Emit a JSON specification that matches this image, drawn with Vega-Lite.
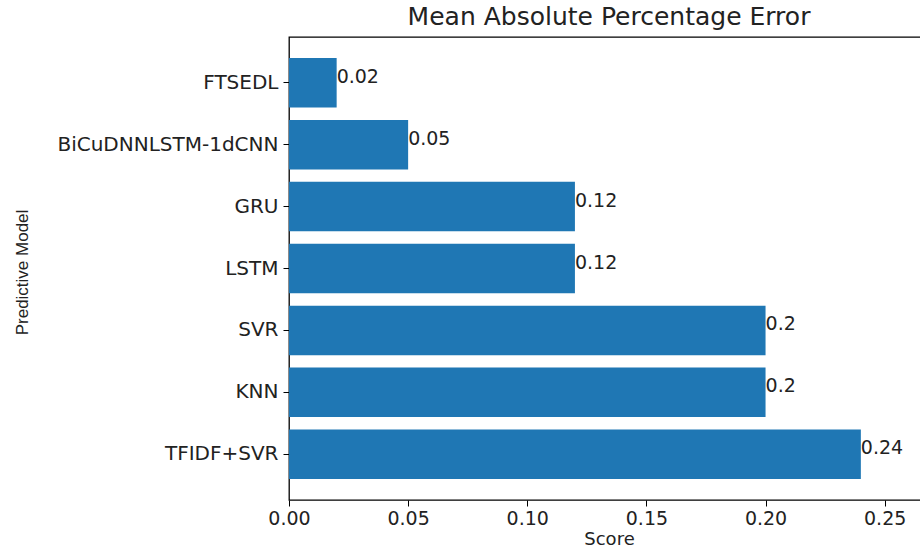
{
  "$schema": "https://vega.github.io/schema/vega-lite/v6.json",
  "autosize": {"type": "none"},
  "padding": {"left": 289, "top": 37, "right": 0, "bottom": 52},
  "width": 640,
  "height": 463,
  "background": "white",
  "title": {"text": "Mean Absolute Percentage Error", "font": "DejaVu Sans", "fontSize": 25, "fontWeight": "normal", "color": "#222", "anchor": "middle", "dx": 0, "offset": 7},
  "config": {"view": {"stroke": "black", "strokeWidth": 1.3}},
  "data": {"values": [
    {"model": "FTSEDL", "score": 0.02},
    {"model": "BiCuDNNLSTM-1dCNN", "score": 0.05},
    {"model": "GRU", "score": 0.12},
    {"model": "LSTM", "score": 0.12},
    {"model": "SVR", "score": 0.2},
    {"model": "KNN", "score": 0.2},
    {"model": "TFIDF+SVR", "score": 0.24}
  ]},
  "encoding": {
    "y": {"field": "model", "type": "nominal", "sort": null,
      "scale": {"paddingInner": 0.2, "paddingOuter": 0.34},
      "axis": {"title": "Predictive Model", "titleFont": "Liberation Sans", "titleFontSize": 17, "titleFontWeight": "normal", "titleColor": "#222",
        "titleX": -267, "titleY": 235, "titleAngle": -90, "titleAlign": "center", "titleBaseline": "middle",
        "labelFont": "DejaVu Sans", "labelFontSize": 20, "labelColor": "#222", "labelPadding": 5, "labelLimit": 400,
        "tickColor": "black", "tickSize": 6, "domain": false}},
    "x": {"field": "score", "type": "quantitative",
      "scale": {"domain": [0, 0.2686], "nice": false, "zero": true},
      "axis": {"title": "Score", "titleFont": "DejaVu Sans", "titleFontSize": 18, "titleFontWeight": "normal", "titleColor": "#222", "titlePadding": 2,
        "values": [0, 0.05, 0.1, 0.15, 0.2, 0.25], "format": ".2f", "labelFlush": false,
        "labelFont": "DejaVu Sans", "labelFontSize": 19, "labelColor": "#222", "labelPadding": 3,
        "tickColor": "black", "tickSize": 6, "grid": false, "domain": false}}
  },
  "layer": [
    {"mark": {"type": "bar", "color": "#1f77b4"}},
    {"mark": {"type": "text", "align": "left", "baseline": "alphabetic", "font": "DejaVu Sans", "fontSize": 19, "color": "#222", "dx": 0},
     "encoding": {"text": {"field": "score", "type": "quantitative", "format": ""}}}
  ]
}
